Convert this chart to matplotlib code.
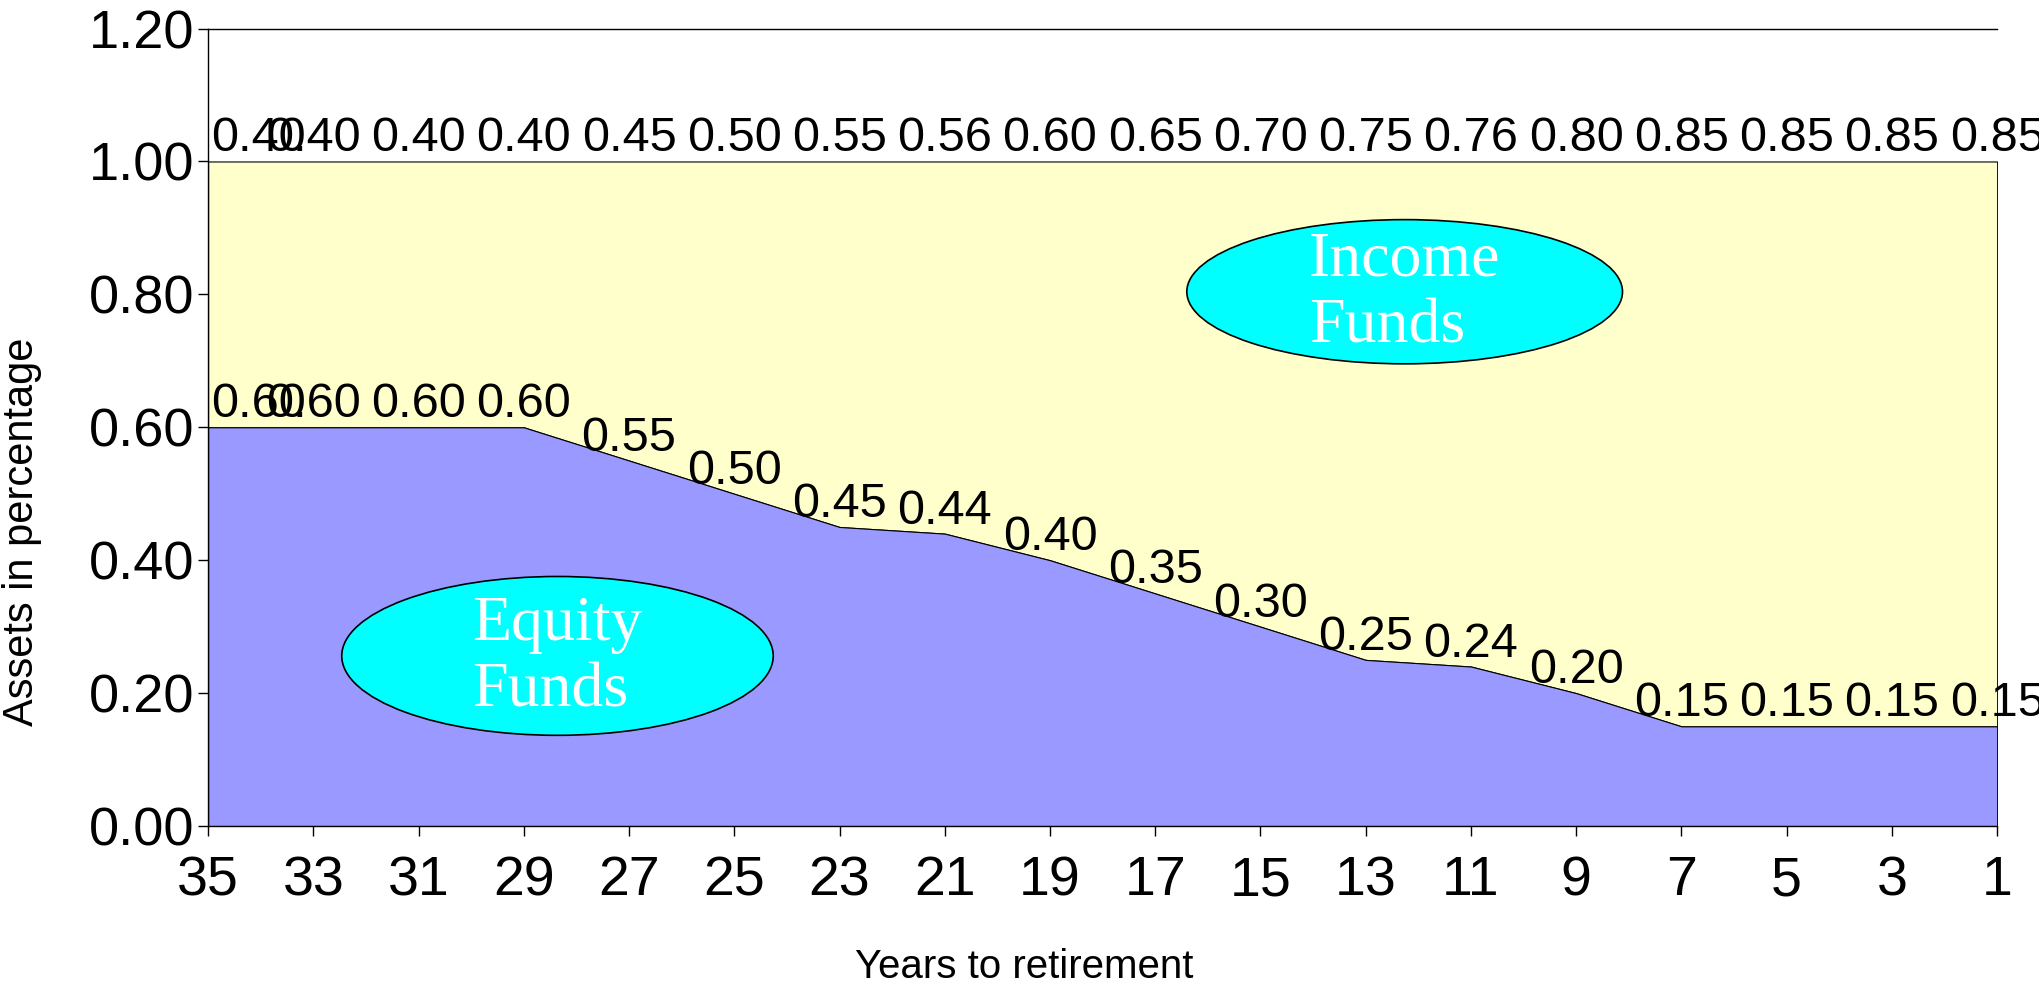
import matplotlib.pyplot as plt
import numpy as np
from matplotlib.patches import Ellipse

plt.rcParams["font.family"] = ["Liberation Sans", "DejaVu Sans"]

# --- data ---
years = ["35", "33", "31", "29", "27", "25", "23", "21", "19",
         "17", "15", "13", "11", "9", "7", "5", "3", "1"]
equity = [0.60, 0.60, 0.60, 0.60, 0.55, 0.50, 0.45, 0.44, 0.40,
          0.35, 0.30, 0.25, 0.24, 0.20, 0.15, 0.15, 0.15, 0.15]
income = [0.40, 0.40, 0.40, 0.40, 0.45, 0.50, 0.55, 0.56, 0.60,
          0.65, 0.70, 0.75, 0.76, 0.80, 0.85, 0.85, 0.85, 0.85]

x = np.arange(len(years))
eq = np.array(equity)
top = eq + np.array(income)

fig = plt.figure(figsize=(20.4, 9.85), dpi=100)
ax = fig.add_axes([0.102, 0.1614, 0.877, 0.8096])

ax.fill_between(x, 0, eq, facecolor="#9999FF", edgecolor="black", linewidth=0.8, zorder=2)
ax.fill_between(x, eq, top, facecolor="#FFFFCC", edgecolor="black", linewidth=0.8, zorder=1)

# value labels above each series
for i in x:
    ha = "left" if i == 0 else "center"
    xi = i + 0.03 if i == 0 else i
    ax.text(xi, eq[i], f"{equity[i]:.2f}", ha=ha, va="bottom", fontsize=35, zorder=5, clip_on=False)
    ax.text(xi, top[i], f"{income[i]:.2f}", ha=ha, va="bottom", fontsize=35, zorder=5, clip_on=False)

# bubbles
ax.add_patch(Ellipse((3.32, 0.256), 4.1, 0.239, facecolor="#00FFFF", edgecolor="black", linewidth=1.2, zorder=4))
ax.text(3.32, 0.252, "Equity\nFunds", ha="center", va="center", multialignment="left",
        color="white", fontsize=46, family=["Liberation Serif"], linespacing=1.2, zorder=6)
ax.add_patch(Ellipse((11.37, 0.804), 4.14, 0.217, facecolor="#00FFFF", edgecolor="black", linewidth=1.2, zorder=4))
ax.text(11.37, 0.80, "Income\nFunds", ha="center", va="center", multialignment="left",
        color="white", fontsize=46, family=["Liberation Serif"], linespacing=1.2, zorder=6)

ax.set_xlim(0, 17)
ax.set_ylim(0, 1.2)
ax.set_xticks(x)
ax.set_xticklabels(years)
ax.set_yticks(np.arange(0, 1.21, 0.2))
ax.set_yticklabels([f"{v:.2f}" for v in np.arange(0, 1.21, 0.2)])
ax.tick_params(axis="y", direction="out", length=7, width=1, labelsize=39, pad=3)
ax.tick_params(axis="x", direction="out", length=7, width=1, labelsize=40, pad=14)

ax.spines["right"].set_visible(False)
for s in ["left", "top", "bottom"]:
    ax.spines[s].set_linewidth(1.0)

fig.text(0.502, 0.018, "Years to retirement", ha="center", va="center", fontsize=29)
fig.text(0.011, 0.46, "Assets in percentage", ha="center", va="center", rotation=90, fontsize=30)

fig.savefig("out.png", dpi=100)
